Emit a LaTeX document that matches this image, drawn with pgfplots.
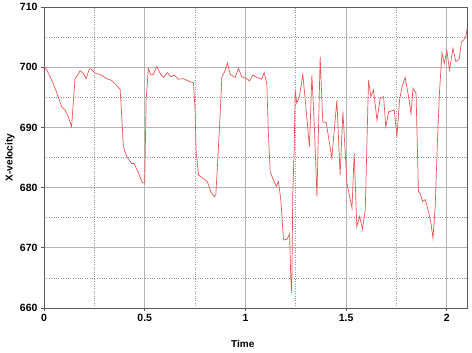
\documentclass[border=0pt]{standalone}
\usepackage{pgfplots}
\pgfplotsset{compat=1.18}
\usepackage{fontspec}
\setmainfont{Liberation Sans}
\definecolor{linered}{RGB}{235,85,85}
\definecolor{majgrid}{RGB}{180,180,180}
\definecolor{mingrid}{RGB}{150,150,150}
\begin{document}
\begin{tikzpicture}
\path[use as bounding box] (-44pt,-45pt) rectangle (428pt,308pt);
\begin{axis}[
  at={(0,0)}, anchor=south west,
  scale only axis,
  width=423pt, height=301pt,
  xmin=0, xmax=2.1, ymin=660, ymax=710,
  xtick={0,0.5,1,1.5,2},
  xticklabels={0,0.5,1,1.5,2},
  ytick={660,670,680,690,700,710},
  minor xtick={0.25,0.75,1.25,1.75},
  minor ytick={665,675,685,695,705},
  grid=both,
  major grid style={draw=majgrid, line width=0.9pt},
  minor grid style={draw=mingrid, dotted, line width=0.6pt},
  axis line style={draw=black!65, line width=0.9pt},
  tick align=outside,
  xtick pos=bottom, ytick pos=left,
  major tick length=3pt,
  minor tick length=0pt,
  tick style={draw=black!65, line width=0.8pt},
  /pgf/number format/assume math mode=true,
  ticklabel style={font=\fontsize{10.5}{12}\selectfont\bfseries},
  xlabel={Time},
  ylabel={X-velocity},
  label style={font=\fontsize{10}{12}\selectfont\bfseries},
  xlabel style={at={(axis description cs:0.47,0)}, anchor=center, yshift=-36pt},
  ylabel style={at={(axis description cs:-0.080,0.5)}, anchor=center},
  clip=true,
]
\addplot[color=linered, line width=0.7pt, mark=none] coordinates {
(0.000,700.2) (0.005,700.0) (0.025,698.8) (0.046,697.3) (0.066,695.5)
(0.088,693.4) (0.104,692.9) (0.120,691.8) (0.137,690.1) (0.154,698.1)
(0.165,698.6) (0.179,699.4) (0.195,699.0) (0.209,698.1) (0.225,699.7)
(0.234,699.7) (0.253,699.0) (0.278,698.8) (0.311,698.1) (0.336,697.8)
(0.360,697.0) (0.378,696.3) (0.386,691.8) (0.394,686.8) (0.411,685.1)
(0.436,684.0) (0.447,684.0) (0.469,682.4) (0.488,680.8) (0.500,680.8)
(0.507,694.5) (0.518,699.8) (0.530,698.7) (0.543,698.8) (0.560,700.1)
(0.576,699.0) (0.593,698.3) (0.613,699.1) (0.629,698.4) (0.646,698.7)
(0.667,698.0) (0.692,698.1) (0.717,697.7) (0.742,697.4) (0.750,692.9)
(0.755,686.2) (0.767,682.1) (0.791,681.5) (0.811,681.0) (0.828,679.3)
(0.845,678.5) (0.853,678.8) (0.861,683.5) (0.874,691.8) (0.883,698.4)
(0.896,699.2) (0.911,700.7) (0.924,698.8) (0.949,698.3) (0.965,699.8)
(0.982,698.4) (1.007,698.1) (1.020,697.7) (1.037,698.7) (1.057,698.3)
(1.081,698.0) (1.093,699.1) (1.106,697.3) (1.114,689.0) (1.123,682.6)
(1.136,681.5) (1.153,680.2) (1.164,681.0) (1.176,677.9) (1.189,671.3)
(1.206,671.4) (1.219,672.3) (1.225,665.2) (1.230,662.5) (1.235,679.0)
(1.242,686.2) (1.247,696.2) (1.255,694.0) (1.268,695.1) (1.285,698.8)
(1.297,694.5) (1.318,686.8) (1.330,698.7) (1.343,689.5) (1.355,678.5)
(1.371,701.7) (1.384,690.9) (1.401,690.8) (1.429,684.9) (1.454,694.5)
(1.470,682.1) (1.484,692.6) (1.504,680.7) (1.529,676.6) (1.540,685.7)
(1.553,673.5) (1.567,675.2) (1.581,673.1) (1.595,676.3) (1.611,697.8)
(1.623,695.1) (1.636,696.2) (1.653,691.2) (1.669,694.8) (1.686,695.1)
(1.697,690.1) (1.711,692.6) (1.739,692.9) (1.752,688.4) (1.765,694.5)
(1.777,696.7) (1.793,698.3) (1.810,695.1) (1.822,692.3) (1.832,696.5)
(1.847,695.7) (1.859,679.3) (1.868,679.0) (1.879,677.7) (1.893,678.0)
(1.909,676.0) (1.921,674.1) (1.931,671.6) (1.942,676.8) (1.954,688.4)
(1.964,696.2) (1.976,702.4) (1.987,700.6) (2.000,702.8) (2.013,699.5)
(2.030,703.1) (2.045,700.9) (2.062,701.4) (2.072,704.2) (2.083,704.5)
(2.096,705.3) (2.100,706.4)
};
\end{axis}
\end{tikzpicture}
\end{document}
